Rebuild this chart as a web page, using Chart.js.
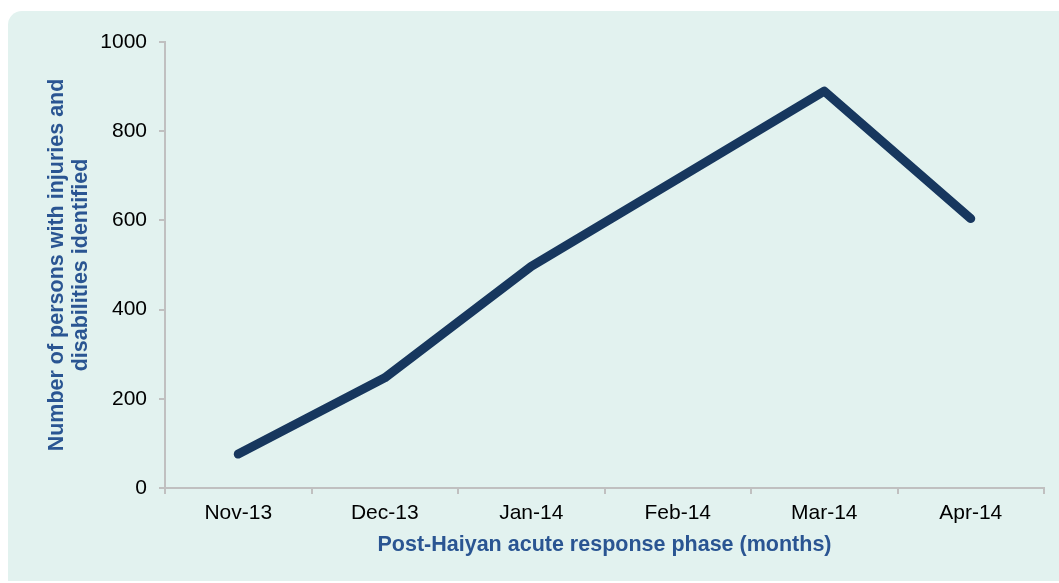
<!DOCTYPE html>
<html>
<head>
<meta charset="utf-8">
<script src="https://cdn.jsdelivr.net/npm/chart.js@4"></script>
<style>
  html, body { margin: 0; padding: 0; background: #fff; width: 1059px; height: 583px; overflow: hidden; }
  #card { position: absolute; left: 8px; top: 11px; right: 0; bottom: 2px; background: #e2f2ef; border-top-left-radius: 14px; }
  #chart { position: absolute; left: 0; top: 0; }
</style>
</head>
<body>
<div id="card"></div>
<canvas id="chart" width="1059" height="583"></canvas>
<script>
const months = ['Nov-13', 'Dec-13', 'Jan-14', 'Feb-14', 'Mar-14', 'Apr-14'];
const persons = [76, 247, 497, 693, 890, 604];
const yTicks = [0, 200, 400, 600, 800, 1000];

const axisGrey = '#c0c0c0';
const titleBlue = '#2a5592';

const ctx = document.getElementById('chart').getContext('2d');
new Chart(ctx, {
  type: 'line',
  data: {
    labels: months,
    datasets: [{
      data: persons,
      borderColor: '#17375e',
      borderWidth: 9,
      borderCapStyle: 'round',
      borderJoinStyle: 'round',
      pointRadius: 0,
      pointHoverRadius: 0,
      tension: 0,
      fill: false
    }]
  },
  options: {
    responsive: false,
    animation: false,
    events: [],
    layout: { padding: { top: 42, right: 15, bottom: 0, left: 0 } },
    plugins: {
      legend: { display: false },
      tooltip: { enabled: false }
    },
    scales: {
      x: {
        offset: true,
        grid: { offset: true, drawOnChartArea: false, drawTicks: true, tickLength: 6, color: axisGrey, lineWidth: 2 },
        border: { display: true, color: axisGrey, width: 2 },
        ticks: { color: '#000', padding: 7, font: { family: 'Liberation Sans', size: 21 }, maxRotation: 0 },
        title: {
          display: true,
          text: 'Post-Haiyan acute response phase (months)',
          color: titleBlue,
          font: { family: 'Liberation Sans', size: 21.5, weight: 'bold', lineHeight: 1.12 },
          padding: { top: 0, bottom: 26 }
        },
        afterFit: s => { s.height = 95; }
      },
      y: {
        min: 0,
        max: 1000,
        afterBuildTicks: s => { s.ticks = yTicks.map(v => ({ value: v })); },
        grid: { drawOnChartArea: false, drawTicks: true, tickLength: 6, color: axisGrey, lineWidth: 2 },
        border: { display: true, color: axisGrey, width: 2 },
        ticks: { color: '#000', padding: 12, font: { family: 'Liberation Sans', size: 21 }, callback: v => String(v) },
        title: {
          display: true,
          text: ['Number of persons with injuries and', 'disabilities identified'],
          color: titleBlue,
          font: { family: 'Liberation Sans', size: 21.5, weight: 'bold', lineHeight: 1.12 },
          padding: { top: 45, bottom: 0 }
        },
        afterFit: s => { s.width = 165; }
      }
    }
  }
});
</script>
</body>
</html>
